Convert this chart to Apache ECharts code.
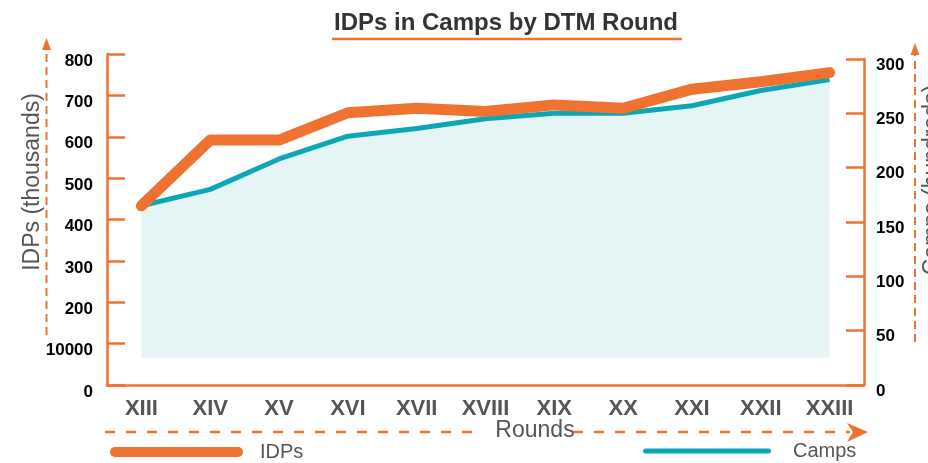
<!DOCTYPE html>
<html>
<head>
<meta charset="utf-8">
<script src="https://cdn.jsdelivr.net/npm/echarts@6/dist/echarts.min.js"></script>
<style>
  html, body { margin: 0; padding: 0; background: #fff; }
  #chart { width: 928px; height: 463px; }
</style>
</head>
<body>
<div id="chart"></div>
<script>
// DTM rounds and values
const rounds = ['XIII', 'XIV', 'XV', 'XVI', 'XVII', 'XVIII', 'XIX', 'XX', 'XXI', 'XXII', 'XXIII'];
const idps = [433, 592, 592, 658, 669, 661, 677, 669, 715, 733, 755];   // thousands
const camps = [165, 180, 208, 229, 236, 245, 250, 250, 257, 271, 281];  // hundreds
// left axis labels as printed (the "10000" is in the original)
const idpAxisLabels = ['0', '10000', '200', '300', '400', '500', '600', '700', '800'];

const orange = '#f07231';
const teal = '#0ba7b5';
const grey = '#555';
const font = '"Liberation Sans", Arial, sans-serif';

const chart = echarts.init(document.getElementById('chart'));

let option = {
  animation: false,
  title: {
    text: 'IDPs in Camps by DTM Round',
    left: 334,
    top: 11,
    padding: 0,
    textStyle: { fontFamily: font, fontSize: 24, fontWeight: 'bold', color: '#333' },
  },
  legend: [
    {
      data: [{ name: 'IDPs', icon: 'path://M5,0H128A5,5,0,0,1,128,10H5A5,5,0,0,1,5,0Z' }],
      left: 110,
      top: 442,
      padding: 0,
      itemWidth: 133,
      itemHeight: 10,
      selectedMode: false,
      itemStyle: { borderWidth: 0 },
      textStyle: { fontFamily: font, fontSize: 20, color: grey, padding: [0, 0, 0, 12] },
    },
    {
      data: [{ name: 'Camps', icon: 'path://M2.5,0H125.5A2.5,2.5,0,0,1,125.5,5H2.5A2.5,2.5,0,0,1,2.5,0Z' }],
      left: 643,
      top: 441,
      padding: 0,
      itemWidth: 128,
      itemHeight: 5,
      selectedMode: false,
      itemStyle: { borderWidth: 0 },
      textStyle: { fontFamily: font, fontSize: 20, color: grey, padding: [0, 0, 0, 17] },
    },
  ],
  grid: [
    { left: 107, right: 64, top: 54, bottom: 78 },
    { left: 107, right: 64, top: 59, bottom: 78 },
  ],
  xAxis: [
    {
      type: 'category',
      gridIndex: 0,
      data: rounds,
      boundaryGap: true,
      axisLine: { lineStyle: { color: orange, width: 2.5 } },
      axisTick: { inside: true, length: 7, interval: 0, lineStyle: { color: orange, width: 2 } },
      axisLabel: {
        interval: 0,
        margin: 13,
        fontFamily: font,
        fontSize: 22,
        fontWeight: 'bold',
        color: grey,
      },
    },
    {
      type: 'category',
      gridIndex: 1,
      data: rounds,
      boundaryGap: true,
      show: false,
    },
  ],
  yAxis: [
    {
      type: 'value',
      gridIndex: 0,
      min: 0,
      max: 800,
      interval: 100,
      position: 'left',
      splitLine: { show: false },
      axisLine: { show: true, lineStyle: { color: orange, width: 2.5 } },
      axisTick: { show: true, inside: true, length: 18, lineStyle: { color: orange, width: 2.5 } },
      axisLabel: {
        margin: 14,
        verticalAlign: 'top',
        lineHeight: 14,
        fontFamily: font,
        fontSize: 17,
        fontWeight: 'bold',
        color: '#000',
        formatter: (v) => idpAxisLabels[Math.round(v / 100)],
      },
    },
    {
      type: 'value',
      gridIndex: 1,
      min: 0,
      max: 300,
      interval: 50,
      position: 'right',
      splitLine: { show: false },
      axisLine: { show: true, lineStyle: { color: orange, width: 2.5 } },
      axisTick: { show: true, inside: true, length: 18, lineStyle: { color: orange, width: 2.5 } },
      axisLabel: {
        margin: 12,
        verticalAlign: 'top',
        lineHeight: 12,
        fontFamily: font,
        fontSize: 17,
        fontWeight: 'bold',
        color: '#000',
      },
    },
  ],
  series: [
    {
      name: 'Camps',
      type: 'line',
      xAxisIndex: 1,
      yAxisIndex: 1,
      data: camps,
      symbol: 'none',
      itemStyle: { color: teal },
      lineStyle: { color: teal, width: 5, join: 'round' },
      areaStyle: { color: '#e5f5f6', opacity: 1, origin: 25 },
      z: 2,
    },
    {
      name: 'IDPs',
      type: 'line',
      xAxisIndex: 0,
      yAxisIndex: 0,
      data: idps,
      symbol: 'none',
      itemStyle: { color: orange },
      lineStyle: { color: orange, width: 11, cap: 'round', join: 'round' },
      z: 3,
    },
  ],
  graphic: [
    // title underline
    { type: 'line', shape: { x1: 332, y1: 39, x2: 682, y2: 39 }, style: { stroke: orange, lineWidth: 2.5 } },
    // axis names
    {
      type: 'text', x: 33, y: 182, rotation: Math.PI / 2,
      style: { text: 'IDPs (thousands)', fontFamily: font, fontSize: 23, fill: grey, align: 'center', verticalAlign: 'middle' },
    },
    {
      type: 'text', x: 933, y: 180, rotation: Math.PI / 2,
      style: { text: 'Camps (hundreds)', fontFamily: font, fontSize: 23, fill: grey, align: 'center', verticalAlign: 'middle' },
    },
    {
      type: 'text', x: 535, y: 431,
      style: { text: 'Rounds', fontFamily: font, fontSize: 23, fill: grey, align: 'center', verticalAlign: 'middle' },
    },
    // dashed arrows
    { type: 'line', shape: { x1: 46.5, y1: 335, x2: 46.5, y2: 50 }, style: { stroke: orange, lineWidth: 2, lineDash: [8, 5] } },
    { type: 'polygon', shape: { points: [[42, 50], [46.5, 38], [51, 50]] }, style: { fill: orange } },
    { type: 'line', shape: { x1: 915, y1: 342, x2: 915, y2: 55 }, style: { stroke: orange, lineWidth: 2, lineDash: [8, 5] } },
    { type: 'polygon', shape: { points: [[910.5, 55], [915, 43], [919.5, 55]] }, style: { fill: orange } },
    { type: 'line', shape: { x1: 105, y1: 432, x2: 473, y2: 432 }, style: { stroke: orange, lineWidth: 2.5, lineDash: [10, 11] } },
    { type: 'line', shape: { x1: 573, y1: 432, x2: 850, y2: 432 }, style: { stroke: orange, lineWidth: 2.5, lineDash: [10, 11] } },
    { type: 'polygon', shape: { points: [[847, 423], [868, 432], [847, 442], [853, 432]] }, style: { fill: orange } },
  ],
};

chart.setOption(option);
</script>
</body>
</html>
